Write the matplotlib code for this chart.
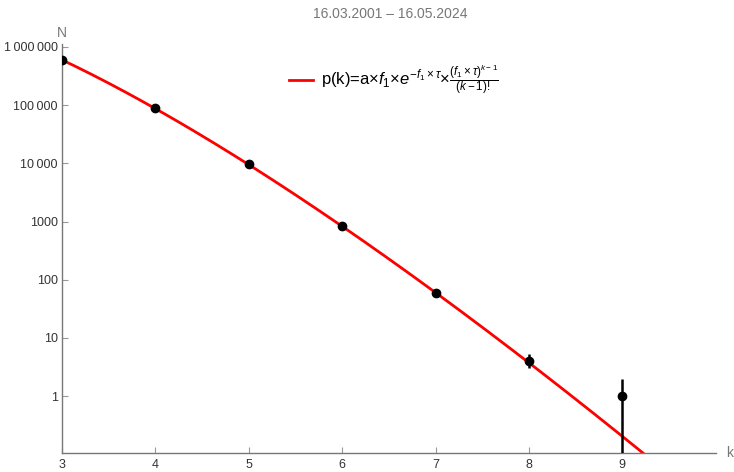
import math
import numpy as np
import matplotlib
matplotlib.use("Agg")
import matplotlib.pyplot as plt
from matplotlib.ticker import FixedLocator, NullLocator

# ---- data ----
k_vals = [3, 4, 5, 6, 7, 8, 9]
N_vals = [600000, 89000, 9700, 830, 60, 4, 1]
err_lo = [0, 0, 0, 0, 0, 1.0, 0.95]
err_hi = [0, 0, 0, 0, 0, 1.2, 1.0]
y_ticks = [1, 10, 100, 1000, 10000, 100000, 1000000]
y_tick_labels = ["1", "10", "100", "1000", "10\u2009000", "100\u2009000", "1\u2009000\u2009000"]
x_ticks = [3, 4, 5, 6, 7, 8, 9]
title = "16.03.2001 \u2013 16.05.2024"

# fitted Poisson parameters
lam = 0.436          # f1 * tau
p3 = 600000.0        # fitted value at k=3
a_f1 = p3 * 2.0 / lam**2 * math.exp(lam)   # a*f1


def p(k):
    return a_f1 * math.exp(-lam) * lam ** (k - 1) / math.exp(math.lgamma(k))


plt.rcParams['font.family'] = ['Liberation Sans', 'DejaVu Sans']
plt.rcParams['mathtext.fontset'] = 'custom'
plt.rcParams['mathtext.rm'] = 'Liberation Sans'
plt.rcParams['mathtext.it'] = 'Liberation Sans:italic'

fig = plt.figure(figsize=(7.34, 4.72), dpi=100)
ax = fig.add_axes([0.0845, 0.040, 0.8905, 0.867])

kk = np.linspace(3, 10, 400)
pp = [p(k) for k in kk]
line, = ax.plot(kk, pp, color='#ff0000', lw=2,
                label=r"p(k)=a$\times$$f_1$$\times$$e^{-f_1\times\tau}$$\times$$\frac{(f_1\times\tau)^{k-1}}{(k-1)!}$")

ax.errorbar(k_vals, N_vals, yerr=[err_lo, err_hi], fmt='o', color='black',
            ms=6, elinewidth=1.8, capsize=0, zorder=5)

ax.set_yscale('log')
ax.set_xlim(3, 10)
ax.set_ylim(0.105, 1.13e6)

ax.yaxis.set_major_locator(FixedLocator(y_ticks))
ax.set_yticklabels(y_tick_labels)
ax.yaxis.set_minor_locator(NullLocator())
ax.xaxis.set_major_locator(FixedLocator(x_ticks))
ax.set_xticklabels([str(x) for x in x_ticks])

gray = '#777777'
for s in ['top', 'right']:
    ax.spines[s].set_visible(False)
for s in ['left', 'bottom']:
    ax.spines[s].set_color(gray)
    ax.spines[s].set_linewidth(1.0)
ax.tick_params(axis='both', direction='in', length=4, width=0.8, color='#999999',
               labelsize=9, labelcolor='#333333')
ax.tick_params(axis='x', pad=4)
ax.tick_params(axis='y', pad=3)

fig.text(62 / 734, 1 - 33 / 472, "N", color=gray, fontsize=10, ha='center', va='center')
fig.text(730 / 734, 1 - 453 / 472, "k", color=gray, fontsize=10, ha='center', va='center')
fig.text(390 / 734, 1 - 14 / 472, title, color=gray, fontsize=10, ha='center', va='center')

leg = ax.legend(handles=[line], loc='upper left', bbox_to_anchor=(0.325, 0.99),
                frameon=False, fontsize=12, handlelength=1.4, handletextpad=0.5)

fig.savefig("out.png", dpi=100)
